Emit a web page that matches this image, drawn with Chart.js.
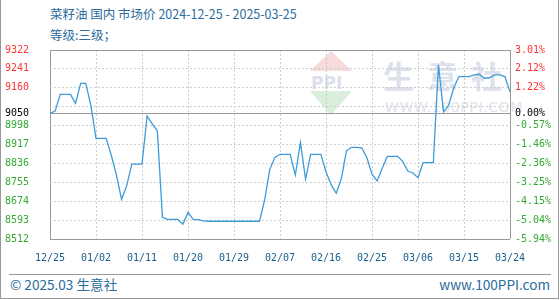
<!DOCTYPE html>
<html>
<head>
<meta charset="utf-8">
<script src="https://cdn.jsdelivr.net/npm/chart.js@4.4.1/dist/chart.umd.min.js"></script>
<style>
body{margin:0;background:#fff;font-family:"Noto Sans CJK SC","Noto Sans",sans-serif}
#wrap{position:relative;width:560px;height:300px;overflow:hidden}
#frame{position:absolute;left:0;top:0;width:557px;height:298px;border-left:1px solid #999;border-right:1px solid #999;border-bottom:1px solid #999}
.t{position:absolute;white-space:nowrap;line-height:16px;color:#2a6c9c}
#sep{position:absolute;left:9px;top:274px;width:542px;height:1px;background:#999}
.wm{position:absolute;white-space:nowrap;line-height:1}
#tri1{position:absolute;left:310px;top:51px;width:0;height:0;border-left:21px solid transparent;border-right:21px solid transparent;border-bottom:20px solid #f7dada}
#tri2{position:absolute;left:310px;top:91px;width:0;height:0;border-left:21px solid transparent;border-right:21px solid transparent;border-top:24px solid #d9efdc}
canvas{position:absolute;left:0;top:0}
</style>
</head>
<body>
<div id="wrap">
  <div id="frame"></div>
  <!-- watermark -->
  <div id="tri1"></div>
  <div class="wm" style="left:311px;top:73px;font:bold 17px 'DejaVu Sans';color:#dbe0ec">PPI</div>
  <div id="tri2"></div>
  <div class="wm" style="left:383px;top:52px;font:bold 31px 'Noto Sans CJK SC';color:#dde1eb;letter-spacing:13px">生意社</div>
  <div class="wm" style="left:385px;top:99px;font:14px 'DejaVu Sans';color:#e0e3ea;letter-spacing:0.6px">WWW.100PPI.COM</div>

  <div class="t" style="left:50px;top:6px;font-size:12.5px">菜籽油 国内 市场价 2024-12-25 - 2025-03-25</div>
  <div class="t" style="left:50px;top:27px;font-size:12.5px">等级:三级；</div>
  <div id="sep"></div>
  <div class="t" style="left:10px;top:276px;font-size:13.6px">© 2025.03 生意社</div>
  <div class="t" style="right:10px;top:276px;font-size:13.6px">www.100PPI.com</div>
  <canvas id="grafik" width="560" height="300"></canvas>
</div>
<script>
// harga harian 12/25 .. 03/25
const prices = [
  9050, 9060, 9132, 9132, 9132, 9094, 9179, 9179, 9084, 8943,
  8943, 8943, 8870, 8786, 8682, 8740, 8833, 8833, 8833, 9039,
  9005, 8976, 8605, 8596, 8596, 8596, 8576, 8626, 8596, 8595,
  8590, 8588, 8588, 8588, 8588, 8588, 8588, 8588, 8588, 8588,
  8588, 8588, 8680, 8810, 8862, 8875, 8875, 8875, 8786, 8926,
  8768, 8875, 8875, 8875, 8800, 8745, 8708, 8770, 8890, 8905,
  8905, 8903, 8860, 8790, 8761, 8815, 8866, 8866, 8866, 8845,
  8803, 8795, 8775, 8839, 8839, 8839, 9258, 9057, 9085, 9160,
  9208, 9208, 9208, 9215, 9218, 9201, 9203, 9215, 9215, 9208,
  9143
];
const xLabels = ["12/25", "01/02", "01/11", "01/20", "01/29", "02/07", "02/16", "02/25", "03/06", "03/15", "03/24"];
const yTicks = [9322, 9241, 9160, 9079, 9050, 8998, 8917, 8836, 8755, 8674, 8593, 8512];
const yLabels = ["9322", "9241", "9160", "", "9050", "8998", "8917", "8836", "8755", "8674", "8593", "8512"];
const pctLabels = ["3.01%", "2.12%", "1.22%", "", "0.00%", "-0.57%", "-1.46%", "-2.36%", "-3.25%", "-4.15%", "-5.04%", "-5.94%"];
const base = 9050;

const mono = { family: "DejaVu Sans Mono", size: 10 };
const warna = v => v > base ? "#ff3333" : (v === base ? "#000" : "#33aa33");
const tepiY = v => v === yTicks[0] || v === yTicks[yTicks.length - 1] || v === base;
const tepiX = v => v === 0 || v === 90;

const chart = new Chart(grafik, {
  type: "line",
  data: {
    datasets: [{
      data: prices.map((y, i) => ({ x: i, y })),
      borderColor: "#3d9bd9", borderWidth: 1.3, pointRadius: 0, tension: 0, fill: false
    }]
  },
  options: {
    responsive: false, animation: false, devicePixelRatio: 1,
    layout: { padding: { top: 50, left: 5, right: 5, bottom: 0 } },
    plugins: { legend: { display: false }, tooltip: { enabled: false } },
    scales: {
      x: {
        type: "linear", min: 0, max: 90,
        afterBuildTicks: s => { s.ticks = xLabels.map((l, i) => ({ value: i * 9 })); },
        afterFit: s => { s.height = 61; },
        ticks: { callback: v => xLabels[v / 9], font: mono, color: "#1b5e8c", padding: 13, maxRotation: 0, autoSkip: false },
        grid: { color: c => tepiX(c.tick && c.tick.value) ? "#999" : "#ccc", drawTicks: false, lineWidth: 1 },
        border: { display: false, dash: c => (c.tick && !tepiX(c.tick.value)) ? [2, 2] : [] }
      },
      y: {
        position: "left", min: 8512, max: 9322,
        afterBuildTicks: s => { s.ticks = yTicks.map(v => ({ value: v })); },
        afterFit: s => { s.width = 45; },
        ticks: { callback: v => yLabels[yTicks.indexOf(v)], font: mono, color: c => warna(c.tick.value), crossAlign: "far", autoSkip: false },
        grid: { color: c => tepiY(c.tick && c.tick.value) ? "#999" : "#ccc", drawTicks: false, lineWidth: 1 },
        border: { display: false, dash: c => (c.tick && !tepiY(c.tick.value)) ? [2, 2] : [] }
      },
      y2: {
        position: "right", min: 8512, max: 9322,
        afterBuildTicks: s => { s.ticks = yTicks.map(v => ({ value: v })); },
        afterFit: s => { s.width = 45; },
        ticks: { callback: v => pctLabels[yTicks.indexOf(v)], font: mono, color: c => warna(c.tick.value), padding: 5, autoSkip: false },
        grid: { drawOnChartArea: false, drawTicks: false },
        border: { display: false }
      }
    }
  }
});
</script>
</body>
</html>
